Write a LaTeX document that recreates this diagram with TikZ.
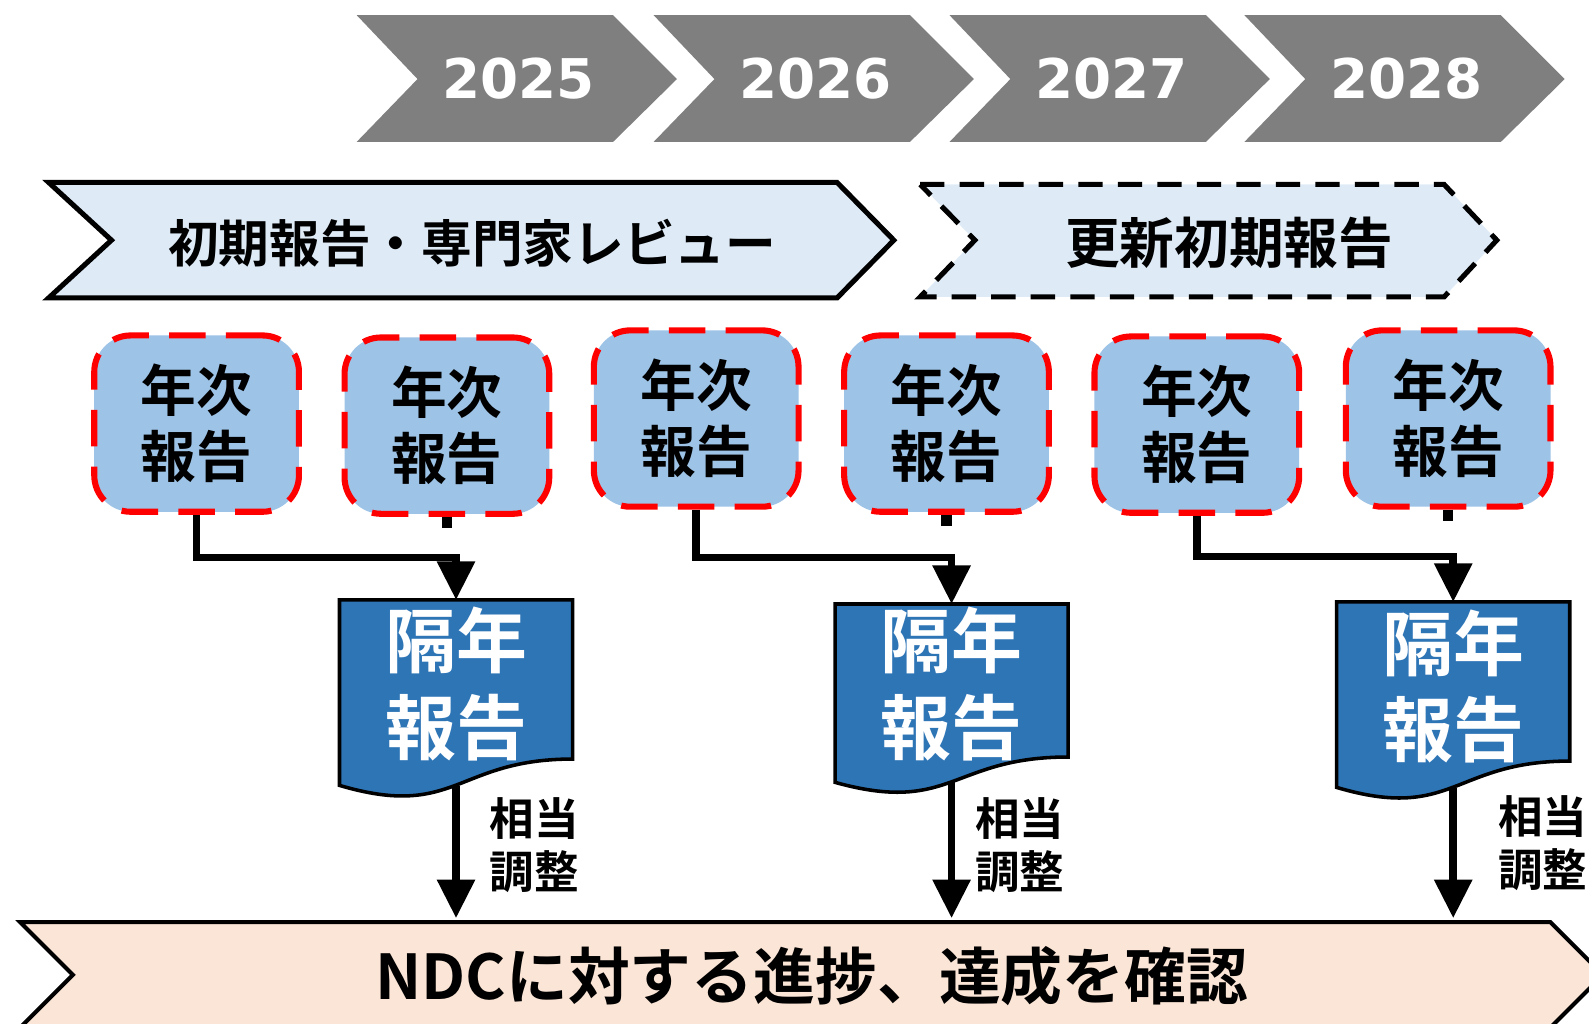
\documentclass[tikz,border=0pt]{standalone}
\usepackage{fontspec}
\setmainfont{DejaVu Sans}
\newfontfamily\jp[BoldFont={Noto Sans CJK JP Bold}]{Noto Sans CJK JP}
\usetikzlibrary{arrows.meta}
\definecolor{yeargray}{HTML}{7F7F7F}
\definecolor{phaseblue}{HTML}{DEEBF7}
\definecolor{annualblue}{HTML}{9DC3E6}
\definecolor{docblue}{HTML}{2E75B6}
\definecolor{ndcpeach}{HTML}{FBE5D6}
\begin{document}
\begin{tikzpicture}[x=1pt,y=-1pt,
  yeartext/.style={text=white,font=\bfseries\fontsize{54}{60}\selectfont,inner sep=0},
  phase/.style={fill=phaseblue,draw=black,line width=5pt,line join=miter},
  phasedash/.style={fill=phaseblue,draw=black,line width=5pt,dash pattern=on 24pt off 15pt},
  phasetext/.style={font=\jp\bfseries\fontsize{50}{56}\selectfont,inner sep=0},
  annual/.style={rectangle,rounded corners=36pt,minimum width=202pt,minimum height=174pt,
    fill=annualblue,draw=red,line width=6pt,dash pattern=on 36pt off 20pt,
    align=center,font=\jp\bfseries\fontsize{55}{65}\selectfont,inner sep=0},
  docshape/.style={fill=docblue,draw=black,line width=3.5pt},
  doctext/.style={text=white,align=center,font=\jp\bfseries\fontsize{70}{85}\selectfont,inner sep=0},
  adjlabel/.style={anchor=west,align=left,font=\jp\bfseries\fontsize{44}{52}\selectfont,inner sep=0},
  conn/.style={line width=7.5pt,-{Triangle[width=36pt,length=38pt]}},
  stub/.style={line width=10pt},
  ndcshape/.style={fill=ndcpeach,draw=black,line width=4pt},
  ndctext/.style={font=\jp\bfseries\fontsize{61}{66}\selectfont,inner sep=0}]
\useasboundingbox (0,0) rectangle (1568,1010);
\clip (0,0) rectangle (1568,1010);

% year chevrons
\foreach \L/\yr in {352/2025,645/2026,937/2027,1228/2028}{
  \fill[yeargray] (\L,15) -- (\L+253,15) -- (\L+316,78) -- (\L+253,140) -- (\L,140) -- (\L+60,78) -- cycle;
  \node[yeartext] (y\yr) at (\L+160,78) {\yr};
}

% phase chevrons
\draw[phase] (48,180) -- (826,180) -- (882,237) -- (826,294) -- (48,294) -- (110,237) -- cycle;
\node[phasetext] (p1) at (466,240) {初期報告・専門家レビュー};
\draw[phasedash] (908,182) -- (1425,182) -- (1477,237) -- (1425,293) -- (908,293) -- (962,237) -- cycle;
\node[phasetext,font=\jp\bfseries\fontsize{54}{60}\selectfont] (p2) at (1213,240) {更新初期報告};

% annual reports
\node[annual] (a1) at (194,418) {年次\\報告};
\node[annual] (a2) at (441,420) {年次\\報告};
\node[annual] (a3) at (687,413) {年次\\報告};
\node[annual] (a4) at (934,418) {年次\\報告};
\node[annual] (a5) at (1181,419) {年次\\報告};
\node[annual] (a6) at (1429,413) {年次\\報告};

% biennial report documents
\draw[docshape] (335,592) -- (565,592) -- (565,749) .. controls (450,749) and (450,809) .. (335,775) -- cycle;
\draw[docshape] (824,596) -- (1054,596) -- (1054,747) .. controls (939,747) and (939,804) .. (824,772) -- cycle;
\draw[docshape] (1319,594) -- (1549,594) -- (1549,751) .. controls (1434,751) and (1434,811) .. (1319,777) -- cycle;
\node[inner sep=0,minimum width=230pt,minimum height=183pt,anchor=north] (d1) at (450,592) {};
\node[inner sep=0,minimum width=230pt,minimum height=175pt,anchor=north] (d2) at (939,596) {};
\node[inner sep=0,minimum width=230pt,minimum height=183pt,anchor=north] (d3) at (1434,594) {};
\node[doctext] (t1) at (450,675) {隔年\\報告};
\node[doctext] (t2) at (939,675) {隔年\\報告};
\node[doctext] (t3) at (1434,677) {隔年\\報告};

% NDC chevron
\draw[ndcshape] (20,910) -- (1530,910) -- (1582,962) -- (1530,1014) -- (20,1014) -- (72,962) -- cycle;
\node[ndctext] (ndc) at (801,963) {NDCに対する進捗、達成を確認};
\coordinate (ndctop) at (800,906);

% connectors
\draw[conn] (a1.south) -- ++(0,42) -| (d1.north);
\draw[conn] (a3.south) -- ++(0,47) -| (d2.north);
\draw[conn] (a5.south) -- ++(0,40) -| (d3.north);
\draw[stub] (a2.south) -- ++(0,11);
\draw[stub] (a4.south) -- ++(0,11);
\draw[stub] (a6.south) -- ++(0,11);

\draw[conn] (d1.south) -- (d1.south |- ndctop);
\draw[conn] (d2.south) -- (d2.south |- ndctop);
\draw[conn] (d3.south) -- (d3.south |- ndctop);

\node[adjlabel] (l1) at (483,834) {相当\\調整};
\node[adjlabel] (l2) at (962,834) {相当\\調整};
\node[adjlabel] (l3) at (1478,832) {相当\\調整};
\end{tikzpicture}
\end{document}
